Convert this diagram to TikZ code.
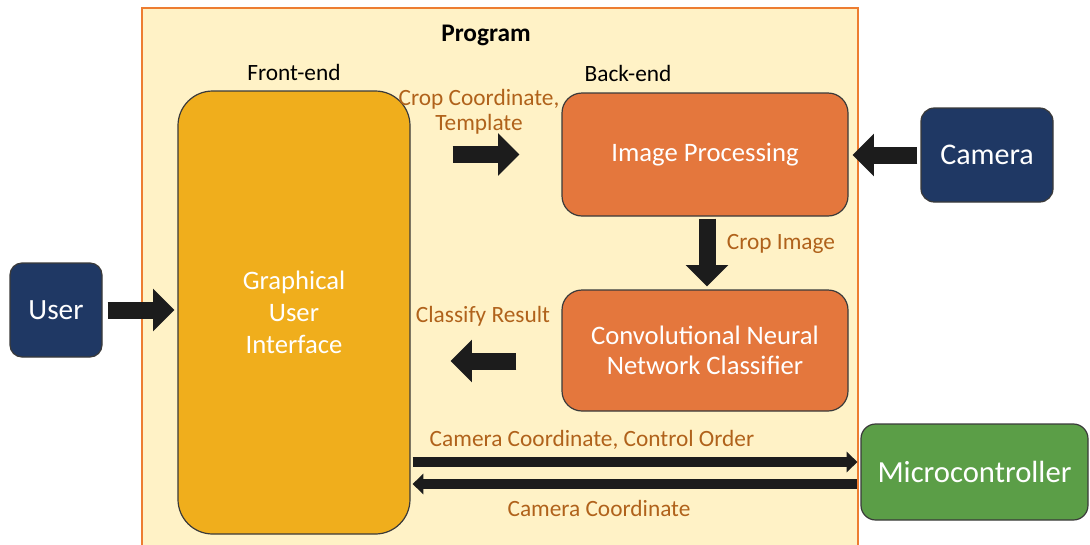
\documentclass[tikz,border=0pt]{standalone}
\usepackage{fontspec}
\setmainfont{Carlito}
\usetikzlibrary{arrows.meta}
\definecolor{progfill}{HTML}{FFF2C6}
\definecolor{progline}{HTML}{ED7D31}
\definecolor{guifill}{HTML}{F0AE1C}
\definecolor{procfill}{HTML}{E4773D}
\definecolor{navy}{HTML}{1F3864}
\definecolor{mcgreen}{HTML}{5B9E47}
\definecolor{lblcol}{HTML}{B0621B}
\definecolor{arrowcol}{HTML}{1C1C1C}
\definecolor{edgecol}{HTML}{3A3A3A}
\tikzset{
  box/.style={draw=edgecol, line width=0.9pt, text=white, align=center, inner sep=0pt},
  lbl/.style={text=lblcol, font=\fontsize{17.5}{19}\selectfont, align=center, inner sep=0pt},
  hdr/.style={text=black, font=\fontsize{17.5}{19}\selectfont, inner sep=0pt},
  blockarrow/.style={draw=arrowcol, line width=12.75pt, -{Triangle[length=16pt,width=31pt]}},
  longarrow/.style={draw=arrowcol, line width=7.5pt, -{Triangle[length=8pt,width=15pt]}},
}
\begin{document}
\begin{tikzpicture}[x=0.75pt,y=-0.75pt]
\useasboundingbox (0,0) rectangle (1090,544);
% program container (bottom edge runs off the picture)
\node[draw=progline, fill=progfill, line width=1.6pt, minimum width=537pt, minimum height=405pt, inner sep=0pt] (prog) at (500,278) {};
\node[hdr, font=\bfseries\fontsize{19}{21}\selectfont] (progtitle) at (486,35) {Program};
\node[hdr] (fe) at (294,72) {Front-end};
\node[hdr] (be) at (628,73) {Back-end};
% boxes
\node[box, fill=guifill, rounded corners=26pt, minimum width=174pt, minimum height=332.25pt,
      font=\fontsize{20}{24}\selectfont] (gui) at (294,312.5) {Graphical\\User\\Interface};
\node[box, fill=procfill, rounded corners=15pt, minimum width=214.5pt, minimum height=92.25pt,
      font=\fontsize{20}{24}\selectfont] (ip) at (705,154.5) {Image Processing};
\node[box, fill=procfill, rounded corners=15pt, minimum width=214.5pt, minimum height=90.75pt,
      font=\fontsize{20}{22.5}\selectfont] (cnn) at (705,350.5) {Convolutional Neural\\Network Classifier};
\node[box, fill=navy, rounded corners=10pt, minimum width=99pt, minimum height=70.5pt,
      font=\fontsize{22.5}{24}\selectfont] (cam) at (987,155) {Camera};
\node[box, fill=navy, rounded corners=9pt, minimum width=69pt, minimum height=70.5pt,
      font=\fontsize{22}{24}\selectfont] (user) at (56,310) {User};
\node[box, fill=mcgreen, rounded corners=11pt, minimum width=170.25pt, minimum height=72pt,
      font=\fontsize{23}{24}\selectfont] (mc) at (974.5,472) {Microcontroller};
% labels
\node[lbl, font=\fontsize{17.5}{18.4}\selectfont] (l1) at (479,112) {Crop Coordinate,\\Template};
\node[lbl] (l2) at (781,244) {Crop Image};
\node[lbl] (l3) at (483,316) {Classify Result};
\node[lbl] (l4) at (592,440) {Camera Coordinate, Control Order};
\node[lbl] (l5) at (599,508) {Camera Coordinate};
% block arrows
\draw[blockarrow, shorten <=3.75pt, shorten >=2.25pt] (user.east) -- (gui.west |- user.east);
\draw[blockarrow, shorten <=31.5pt, shorten >=31.5pt] (gui.east |- ip.west) -- (ip.west);
\draw[blockarrow, shorten <=2.25pt, shorten >=3pt] (cam.west) -- (ip.east |- cam.west);
\draw[blockarrow, shorten <=1.5pt, shorten >=2.25pt] (ip.south -| 707,0) -- (cnn.north -| 707,0);
\coordinate (cr) at (0,361);
\draw[blockarrow, shorten <=33.75pt, shorten >=30pt] (cnn.west |- cr) -- (gui.east |- cr);
% long arrows
\coordinate (m1) at (0,462);
\coordinate (m2) at (0,484);
\draw[longarrow, shorten <=1.5pt, shorten >=2.25pt] (gui.east |- m1) -- (mc.west |- m1);
\draw[longarrow, shorten <=2.25pt, shorten >=1.5pt] (mc.west |- m2) -- (gui.east |- m2);
\end{tikzpicture}
\end{document}
